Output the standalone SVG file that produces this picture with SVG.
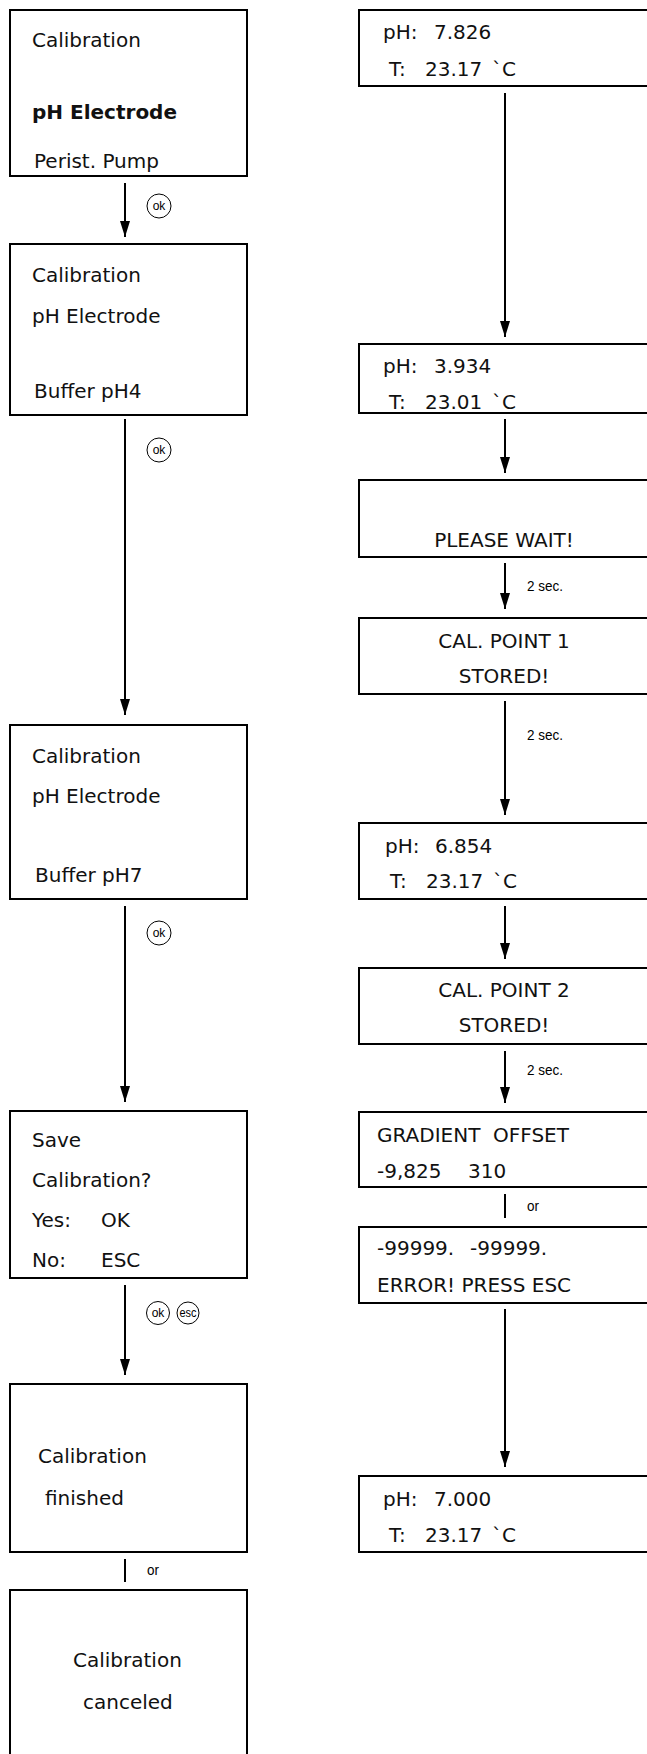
<svg xmlns="http://www.w3.org/2000/svg" width="647" height="1754" viewBox="0 0 647 1754">
<style>
.box{fill:#fff;stroke:#000;stroke-width:2}
.t{font-family:"DejaVu Sans","Liberation Sans",sans-serif;font-size:20px;fill:#111}
.b{font-weight:bold}
.c{text-anchor:middle}
.s{font-family:"Liberation Sans",Arial,sans-serif;font-size:15px;fill:#000}
.k{font-family:"Liberation Sans",Arial,sans-serif;font-size:12px;fill:#000;text-anchor:middle}
.btn{fill:#fff;stroke:#000;stroke-width:1}
.ar{stroke:#000;stroke-width:2;fill:none}
</style>
<defs>
<marker id="ah" markerUnits="userSpaceOnUse" markerWidth="16" markerHeight="10" refX="16" refY="5" orient="auto">
<path d="M0,0 L16,5 L0,10 z" fill="#000"/>
</marker>
</defs>
<rect width="647" height="1754" fill="#fff"/>

<g id="connectors">
<line class="ar" x1="125" y1="183" x2="125" y2="237" marker-end="url(#ah)"/>
<line class="ar" x1="125" y1="419" x2="125" y2="715" marker-end="url(#ah)"/>
<line class="ar" x1="125" y1="906" x2="125" y2="1102" marker-end="url(#ah)"/>
<line class="ar" x1="125" y1="1285" x2="125" y2="1375" marker-end="url(#ah)"/>
<line class="ar" x1="125" y1="1559" x2="125" y2="1582"/>
<line class="ar" x1="505" y1="93" x2="505" y2="337" marker-end="url(#ah)"/>
<line class="ar" x1="505" y1="419" x2="505" y2="473" marker-end="url(#ah)"/>
<line class="ar" x1="505" y1="563" x2="505" y2="609" marker-end="url(#ah)"/>
<line class="ar" x1="505" y1="701" x2="505" y2="815" marker-end="url(#ah)"/>
<line class="ar" x1="505" y1="906" x2="505" y2="959" marker-end="url(#ah)"/>
<line class="ar" x1="505" y1="1051" x2="505" y2="1103" marker-end="url(#ah)"/>
<line class="ar" x1="505" y1="1194" x2="505" y2="1218"/>
<line class="ar" x1="505" y1="1309" x2="505" y2="1467" marker-end="url(#ah)"/>
<g id="btn1"><circle class="btn" cx="159" cy="206" r="12"/><text class="k" x="159" y="210">ok</text></g>
<g id="btn2"><circle class="btn" cx="159" cy="450" r="12"/><text class="k" x="159" y="454">ok</text></g>
<g id="btn3"><circle class="btn" cx="159" cy="933" r="12"/><text class="k" x="159" y="937">ok</text></g>
<g id="btn4"><circle class="btn" cx="158" cy="1313" r="11.5"/><text class="k" x="158" y="1317">ok</text></g>
<g id="btn5"><circle class="btn" cx="188" cy="1313" r="11"/><text class="k" x="188" y="1317" textLength="17" lengthAdjust="spacingAndGlyphs">esc</text></g>
<text class="s" x="147" y="1575" textLength="12" lengthAdjust="spacingAndGlyphs">or</text>
<text class="s" x="527" y="591" textLength="36" lengthAdjust="spacingAndGlyphs">2 sec.</text>
<text class="s" x="527" y="740" textLength="36" lengthAdjust="spacingAndGlyphs">2 sec.</text>
<text class="s" x="527" y="1075" textLength="36" lengthAdjust="spacingAndGlyphs">2 sec.</text>
<text class="s" x="527" y="1211" textLength="12" lengthAdjust="spacingAndGlyphs">or</text>
</g>

<g id="L1"><rect class="box" x="10" y="10" width="237" height="166"/>
<text class="t" x="32" y="47">Calibration</text>
<text class="t b" x="32" y="119">pH Electrode</text>
<text class="t" x="34" y="168">Perist. Pump</text></g>

<g id="L2"><rect class="box" x="10" y="244" width="237" height="171"/>
<text class="t" x="32" y="282">Calibration</text>
<text class="t" x="32" y="323">pH Electrode</text>
<text class="t" x="34" y="398">Buffer pH4</text></g>

<g id="L3"><rect class="box" x="10" y="725" width="237" height="174"/>
<text class="t" x="32" y="763">Calibration</text>
<text class="t" x="32" y="803">pH Electrode</text>
<text class="t" x="35" y="882">Buffer pH7</text></g>

<g id="L4"><rect class="box" x="10" y="1111" width="237" height="167"/>
<text class="t" x="32" y="1147">Save</text>
<text class="t" x="32" y="1187">Calibration?</text>
<text class="t" x="32" y="1227">Yes:<tspan x="101">OK</tspan></text>
<text class="t" x="32" y="1267">No:<tspan x="101">ESC</tspan></text></g>

<g id="L5"><rect class="box" x="10" y="1384" width="237" height="168"/>
<text class="t" x="38" y="1463">Calibration</text>
<text class="t" x="45" y="1505">finished</text></g>

<g id="L6"><rect class="box" x="10" y="1590" width="237" height="180"/>
<text class="t" x="73" y="1667">Calibration</text>
<text class="t" x="83" y="1709">canceled</text></g>

<g id="R1"><rect class="box" x="359" y="10" width="300" height="76"/>
<text class="t" x="383" y="39">pH:<tspan x="434">7.826</tspan></text>
<text class="t" x="389" y="76">T:<tspan x="425">23.17</tspan><tspan x="492">`C</tspan></text></g>

<g id="R2"><rect class="box" x="359" y="344" width="300" height="69"/>
<text class="t" x="383" y="373">pH:<tspan x="434">3.934</tspan></text>
<text class="t" x="389" y="409">T:<tspan x="425">23.01</tspan><tspan x="492">`C</tspan></text></g>

<g id="R3"><rect class="box" x="359" y="480" width="300" height="77"/>
<text class="t c" x="504" y="547">PLEASE WAIT!</text></g>

<g id="R4"><rect class="box" x="359" y="618" width="300" height="76"/>
<text class="t c" x="504" y="648">CAL. POINT 1</text>
<text class="t c" x="504" y="683">STORED!</text></g>

<g id="R5"><rect class="box" x="359" y="823" width="300" height="76"/>
<text class="t" x="385" y="853">pH:<tspan x="435">6.854</tspan></text>
<text class="t" x="390" y="888">T:<tspan x="426">23.17</tspan><tspan x="493">`C</tspan></text></g>

<g id="R6"><rect class="box" x="359" y="968" width="300" height="76"/>
<text class="t c" x="504" y="997">CAL. POINT 2</text>
<text class="t c" x="504" y="1032">STORED!</text></g>

<g id="R7"><rect class="box" x="359" y="1112" width="300" height="75"/>
<text class="t" x="377" y="1142">GRADIENT<tspan x="493">OFFSET</tspan></text>
<text class="t" x="377" y="1178">-9,825<tspan x="468">310</tspan></text></g>

<g id="R8"><rect class="box" x="359" y="1227" width="300" height="76"/>
<text class="t" x="377" y="1255">-99999.<tspan x="470">-99999.</tspan></text>
<text class="t" x="377" y="1292">ERROR! PRESS ESC</text></g>

<g id="R9"><rect class="box" x="359" y="1476" width="300" height="76"/>
<text class="t" x="383" y="1506">pH:<tspan x="434">7.000</tspan></text>
<text class="t" x="389" y="1542">T:<tspan x="425">23.17</tspan><tspan x="492">`C</tspan></text></g>
</svg>
